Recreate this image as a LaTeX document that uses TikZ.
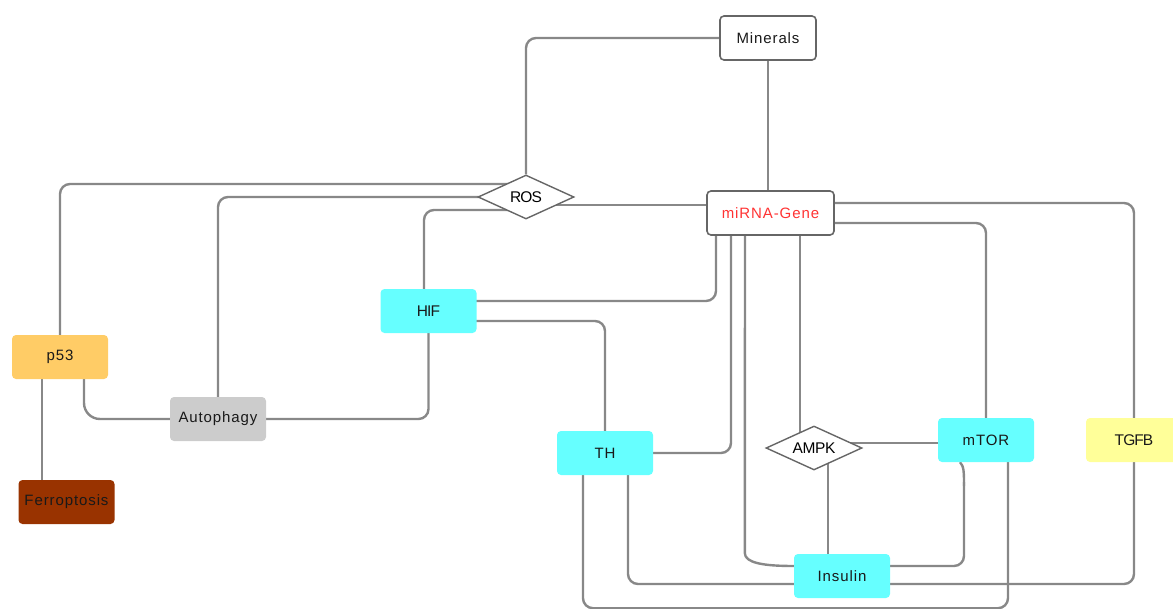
\documentclass[tikz,border=0pt]{standalone}
\usepackage{fontspec}
\setmainfont{Liberation Sans}
\newfontfamily\spaced[LetterSpace=6]{Liberation Sans}
\newfontfamily\tight[LetterSpace=-6]{Liberation Sans}
\newfontfamily\snug[LetterSpace=-2]{Liberation Sans}
\usetikzlibrary{shapes.geometric,calc}
\definecolor{edgegray}{HTML}{888888}
\definecolor{bordergray}{HTML}{666666}
\definecolor{cyanfill}{HTML}{66FFFF}
\definecolor{p53fill}{HTML}{FFCC66}
\definecolor{autofill}{HTML}{CCCCCC}
\definecolor{ferrofill}{HTML}{993300}
\definecolor{tgfbfill}{HTML}{FFFF99}
\definecolor{genered}{HTML}{FF3333}
\pgfdeclarelayer{background}
\pgfsetlayers{background,main}
\tikzset{
  box/.style={rectangle, rounded corners=4pt, minimum width=96pt, minimum height=44pt,
    inner sep=0pt, text=black!90, font=\spaced\fontsize{15}{17}\selectfont},
  plainbox/.style={box, font=\tight\fontsize{15.5}{17}\selectfont},
  outlined/.style={draw=bordergray, line width=1.6pt, fill=white},
  gate/.style={diamond, draw=bordergray, line width=1.4pt, fill=white, aspect=2,
    minimum width=96pt, minimum height=44pt, inner sep=0pt, text=black,
    font=\tight\fontsize{15.5}{17}\selectfont},
  link/.style={draw=edgegray, line width=2.4pt, rounded corners=10pt}
}
\begin{document}
\begin{tikzpicture}[x=1pt, y=-1pt]
\useasboundingbox (0,0) rectangle (1173,608);

% nodes
\node[box, outlined] (minerals) at (768,38) {Minerals};
\node[box, outlined, minimum width=127pt, text=genered] (mirna) at (770.5,213) {miRNA-Gene};
\node[gate] (ros) at (526,197) {ROS};
\node[plainbox, fill=cyanfill] (hif) at (428.5,311) {HIF};
\node[box, fill=p53fill] (p53) at (60,357) {p53};
\node[box, fill=autofill] (autophagy) at (218,419) {Autophagy};
\node[box, fill=ferrofill] (ferro) at (66.5,502) {Ferroptosis};
\node[box, fill=cyanfill] (th) at (605,453) {TH};
\node[gate, font=\snug\fontsize{15.5}{17}\selectfont] (ampk) at (814,448) {AMPK};
\node[box, fill=cyanfill] (mtor) at (986,440) {mTOR};
\node[plainbox, fill=tgfbfill] (tgfb) at (1134,440) {TGFB};
\node[box, fill=cyanfill] (insulin) at (842,576) {Insulin};

% connectors
\begin{pgfonlayer}{background}
\path[link] (minerals.west) -| (ros.north);
\path[link] (minerals.south) -- ($(mirna.north)+(-2.5,0)$);
\path[link] ($(ros)+(0,-13)$) -| (p53.north);
\path[link] (ros.center) -| (autophagy.north);
\path[link] ($(ros)+(0,8)$) -- ($(mirna)+(0,-8)$);
\path[link] ($(ros)+(0,13)$) -| ($(hif.north)+(-4.5,0)$);
\path[link] ($(hif)+(0,-10)$) -| ($(mirna.south)+(-54.5,0)$);
\path[link] ($(hif)+(0,10)$) -| (th.north);
\path[link] (hif.south) |- (autophagy.east);
\path[link, rounded corners=16pt] ($(p53.south)+(24,0)$) |- (autophagy.west);
\path[link] ($(p53.south)+(-18,0)$) -- ($(ferro.north)+(-24.5,0)$);
\path[link] (th.east) -| ($(mirna.south)+(-39.5,0)$);
\path[link, rounded corners=0pt] ($(mirna.south)+(-25.5,0)$) -- ($(insulin.west)+(-49,-23)$)
  .. controls ($(insulin.west)+(-49,-13)$) and ($(insulin.west)+(-30,-10)$) .. ($(insulin.west)+(0,-10)$);
\path[link] ($(mirna.south)+(29.5,0)$) -- ($(ampk)+(-14,0)$);
\path[link] ($(mirna)+(0,10)$) -| (mtor.north);
\path[link] ($(mirna)+(0,-10)$) -| (tgfb.north);
\path[link] (tgfb.south) |- ($(insulin)+(0,8)$);
\path[link] ($(ampk)+(0,-5)$) -- ($(mtor)+(0,3)$);
\path[link] ($(ampk)+(14,0)$) -- ($(insulin.north)+(-14,0)$);
\path[link, rounded corners=0pt] ($(mtor.south)+(-26,0)$)
  .. controls ($(mtor.south)+(-22,4)$) and ($(mtor.south)+(-22,10)$) .. ($(mtor.south)+(-22,24)$);
\path[link] ($(mtor.south)+(-22,20)$) |- ($(insulin.east)+(0,-10)$);
\path[link] ($(th.south)+(23,0)$) |- ($(insulin.west)+(0,8)$);
\path[link] ($(th.south)+(-22,0)$) |- ($(th.south)+(200,133)$) -| ($(mtor.south)+(22,0)$);
\end{pgfonlayer}
\end{tikzpicture}
\end{document}
